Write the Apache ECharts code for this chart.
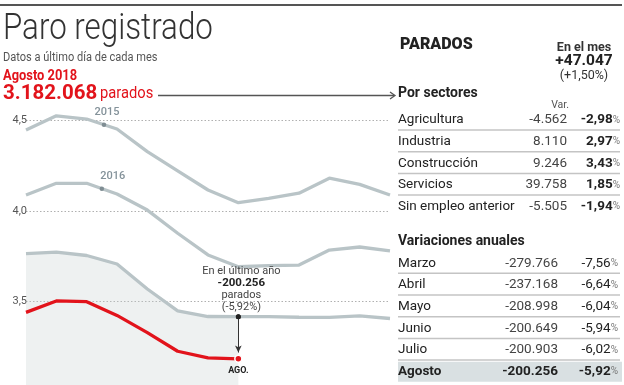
<!DOCTYPE html>
<html><head><meta charset="utf-8">
<script src="https://cdn.jsdelivr.net/npm/echarts@6/dist/echarts.min.js"></script>
<style>html,body{margin:0;padding:0;background:#fff}#c{width:624px;height:385px}</style>
</head><body><div id="c"></div>
<script>
// Meses: diciembre del año anterior + enero..diciembre (millones de parados)
const monthIdx = [0,1,2,3,4,5,6,7,8,9,10,11,12];
const yTicks = [3.5, 4.0, 4.5];
const s2015 = [4.446,4.525,4.507,4.452,4.327,4.221,4.115,4.045,4.069,4.097,4.180,4.146,4.087];
const s2016 = [4.087,4.152,4.152,4.093,4.004,3.876,3.756,3.691,3.697,3.700,3.783,3.800,3.778];
const s2017 = [3.763,3.772,3.753,3.706,3.568,3.447,3.416,3.415,3.415,3.412,3.411,3.419,3.405];
const s2018 = [3.439,3.502,3.498,3.422,3.327,3.224,3.187,3.182];
const yearLabels = ['2015','2016'];
const yearLabelPos = [2.57, 2.5];
const sectorNames = ['Agricultura','Industria','Construcción','Servicios','Sin empleo anterior'];
const sectorVar = ['-4.562','8.110','9.246','39.758','-5.505'];
const sectorPct = ['-2,98','2,97','3,43','1,85','-1,94'];
const annualMonths = ['Marzo','Abril','Mayo','Junio','Julio','Agosto'];
const annualVar = ['-279.766','-237.168','-208.998','-200.649','-200.903','-200.256'];
const annualPct = ['-7,56','-6,64','-6,04','-5,94','-6,02','-5,92'];
const monthChange = '+47.047';
const monthChangePct = '(+1,50%)';
const totalParados = '3.182.068';

const F = 'Roboto, "Noto Sans", sans-serif';
const GRAY = '#b9c4c7', RED = '#e2131b';

function pts(arr){ return arr.map((v,i)=>[monthIdx[i], v]); }
function interp(arr, x){ const i = Math.floor(x), f = x - i; return arr[i] + (arr[i+1]-arr[i])*f; }

function txt(x, y, text, size, o) {
  o = o || {};
  const st = {text, fontSize:size, fontFamily:F, fontWeight:o.w||'normal', fill:o.c||'#222', align:o.a||'left', verticalAlign:'middle'};
  if (o.rich) st.rich = o.rich;
  return {type:'text', x, y, scaleX:o.sx||1, z:10, style:st};
}
function hline(x1,x2,y,color,w){ return {type:'line', z:5, shape:{x1,y1:y,x2,y2:y}, style:{stroke:color, lineWidth:w}}; }

const g = [];
g.push(hline(0,622,5,'#555',2));
g.push(txt(3,29.5,'Paro registrado',36,{w:300,c:'#333',sx:0.87}));
g.push(txt(3,58,'Datos a último día de cada mes',12,{c:'#555',sx:0.92}));
g.push(txt(3,76,'Agosto 2018',14,{w:'bold',c:RED,sx:0.92}));
g.push(txt(3,93.5,totalParados,20.5,{w:'bold',c:RED}));
g.push(txt(100,94,'parados',16,{c:RED,sx:0.92}));
g.push(hline(158,394,95.5,'#555',1.5));
g.push({type:'polyline', z:5, shape:{points:[[390,92],[395,95.5],[390,99]]}, style:{stroke:'#555', lineWidth:1.3, fill:null}});

g.push(txt(400,45,'PARADOS',16,{w:900,c:'#222'}));
g.push(txt(584,47.5,'En el mes',12.5,{w:'bold',c:'#333',a:'center'}));
g.push(txt(584,61.5,monthChange,15.5,{w:'bold',c:'#222',a:'center'}));
g.push(txt(584,75.5,monthChangePct,12.5,{c:'#333',a:'center'}));

g.push(txt(398,93.5,'Por sectores',14,{w:'bold',c:'#222'}));
g.push(txt(569,105,'Var.',10.5,{c:'#555',a:'right'}));
const rowH = 21.7;
const pctRich = (bold)=>({n:{fontSize:13.5,fontWeight:bold?'bold':'normal',fill:'#222',color:'#222',fontFamily:F}, p:{fontSize:10,fill:'#777',color:'#777',fontFamily:F}});
sectorNames.forEach((n,i)=>{
  const y = 120 + i*rowH;
  g.push(txt(398,y,n,13.5,{c:'#222'}));
  g.push(txt(567,y,sectorVar[i],13.5,{c:'#444',a:'right'}));
  g.push(txt(620,y,'{n|'+sectorPct[i]+'}{p|%}',13.5,{a:'right',rich:pctRich(true)}));
  if (i < sectorNames.length-1) g.push(hline(398,620,y+10,'#c4c4c4',1.5));
});

g.push(txt(398,241.5,'Variaciones anuales',14,{w:'bold',c:'#222'}));
const last = annualMonths.length-1;
g.push({type:'rect', z:4, shape:{x:398,y:361.7,width:224,height:20}, style:{fill:'#d9e0e2'}});
annualMonths.forEach((m,i)=>{
  const y = 263.3 + i*rowH, b = i===last;
  g.push(txt(398,y,m,13.5,{c:'#222',w:b?'bold':'normal'}));
  g.push(txt(558,y,annualVar[i],13.5,{c:b?'#222':'#444',a:'right',w:b?'bold':'normal'}));
  g.push(txt(618,y,'{n|'+annualPct[i]+'}{p|%}',13.5,{a:'right',rich:pctRich(b)}));
  if (i < last) g.push(hline(398,620,y+10,'#c4c4c4',1.5));
});

const chart = echarts.init(document.getElementById('c'));
const yMarks = yearLabels.map((lab,k)=>{
  const arr = k===0 ? s2015 : s2016;
  return {coord:[yearLabelPos[k], interp(arr, yearLabelPos[k])], value:lab,
    label:{offset:[k===0?3:11,0]}};
});
chart.setOption({
  animation:false,
  grid:{left:26, width:364, top:120.3, height:271.5, outerBoundsMode:'none', containLabel:false},
  xAxis:{type:'value', min:0, max:12, show:false},
  yAxis:{type:'value', min:3.0, max:4.5, interval:0.5,
    axisLine:{show:false}, axisTick:{show:false},
    axisLabel:{margin:-1, color:'#555', fontSize:11, fontFamily:F,
      formatter:v=> yTicks.some(t=>Math.abs(t-v)<1e-6) ? v.toFixed(1).replace('.',',') : ''},
    splitLine:{show:true, lineStyle:{type:[1.5,2], color:'#b0b0b0', width:1}}},
  series:[
    {type:'line', data:pts(s2017.slice(0,s2018.length)), symbol:'none', clip:false, z:1,
      lineStyle:{width:0}, areaStyle:{color:'rgba(196,206,209,0.42)', origin:'start'}},
    {type:'line', data:pts(s2015), symbol:'none', clip:false, z:2, lineStyle:{color:GRAY, width:3.3},
      markPoint:{symbol:'circle', symbolSize:4.5, itemStyle:{color:'#7f8d93'}, silent:true,
        label:{show:true, position:'top', distance:5, color:'#84929a', fontSize:11, fontWeight:500, fontFamily:F, formatter:'{c}'},
        data:[yMarks[0]]}},
    {type:'line', data:pts(s2016), symbol:'none', clip:false, z:2, lineStyle:{color:GRAY, width:3.3},
      markPoint:{symbol:'circle', symbolSize:4.5, itemStyle:{color:'#7f8d93'}, silent:true,
        label:{show:true, position:'top', distance:5, color:'#84929a', fontSize:11, fontWeight:500, fontFamily:F, formatter:'{c}'},
        data:[yMarks[1]]}},
    {type:'line', data:pts(s2017), symbol:'none', clip:false, z:2, lineStyle:{color:GRAY, width:3.3},
      markLine:{silent:true, symbol:['circle','arrow'], symbolSize:[5,7], label:{show:false},
        lineStyle:{color:'#333', width:1, type:'solid'},
        data:[[{coord:[7, s2017[7]]},{coord:[7, s2018[7]+0.035]}]]},
      markPoint:{symbol:'circle', symbolSize:5, itemStyle:{color:'#222'}, silent:true,
        label:{show:true, position:'top', distance:1, offset:[3,0], fontFamily:F,
          formatter:'{a|En el último año}\n{b|'+annualVar[last]+'}\n{a|parados}\n{a|('+annualPct[last]+'%)}',
          rich:{a:{fontSize:11,color:'#444',lineHeight:12,fontFamily:F,align:'center'},
                b:{fontSize:11.5,fontWeight:'bold',color:'#222',lineHeight:12,fontFamily:F,align:'center'}}},
        data:[{coord:[7, s2017[7]]}]}},
    {type:'line', data:pts(s2018), symbol:'none', clip:false, z:3, lineStyle:{color:RED, width:3.3},
      markPoint:{symbol:'circle', symbolSize:7, itemStyle:{color:RED, borderColor:'#fff', borderWidth:1.5}, silent:true,
        label:{show:true, position:'bottom', distance:3, color:'#222', fontSize:9, fontWeight:'bold', fontFamily:F, formatter:'AGO.'},
        data:[{coord:[7, s2018[7]]}]}}
  ],
  graphic:g
});
</script></body></html>
